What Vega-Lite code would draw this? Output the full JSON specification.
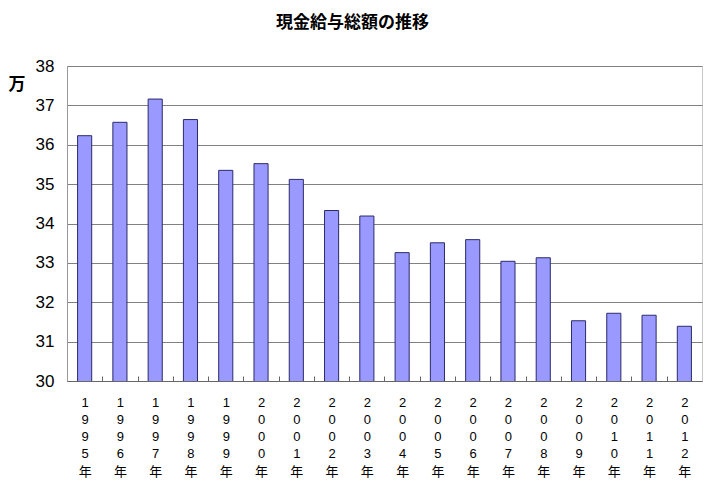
{
  "$schema": "https://vega.github.io/schema/vega-lite/v6.json",
  "width": 635,
  "height": 315,
  "autosize": "none",
  "padding": {"left": 67, "top": 66, "right": 7, "bottom": 112},
  "background": "white",
  "title": {
    "text": "現金給与総額の推移",
    "font": "Noto Sans CJK JP",
    "fontSize": 17,
    "fontWeight": "bold",
    "color": "#000000",
    "anchor": "middle",
    "dx": -32,
    "offset": 25
  },
  "config": {
    "view": {"stroke": "#c8c8c8", "strokeWidth": 1}
  },
  "data": {
    "values": [
      {"year": "1995", "value": 36.23},
      {"year": "1996", "value": 36.57},
      {"year": "1997", "value": 37.16},
      {"year": "1998", "value": 36.64},
      {"year": "1999", "value": 35.35},
      {"year": "2000", "value": 35.52},
      {"year": "2001", "value": 35.12},
      {"year": "2002", "value": 34.33},
      {"year": "2003", "value": 34.19},
      {"year": "2004", "value": 33.26},
      {"year": "2005", "value": 33.51},
      {"year": "2006", "value": 33.59},
      {"year": "2007", "value": 33.04},
      {"year": "2008", "value": 33.13},
      {"year": "2009", "value": 31.53},
      {"year": "2010", "value": 31.72},
      {"year": "2011", "value": 31.67},
      {"year": "2012", "value": 31.39}
    ]
  },
  "mark": {"type": "bar", "fill": "#9999ff", "stroke": "#2b2b6b", "strokeWidth": 1, "clip": true},
  "encoding": {
    "x": {
      "field": "year",
      "type": "ordinal",
      "scale": {"paddingInner": 0.6, "paddingOuter": 0.3},
      "axis": {
        "title": null,
        "labelAngle": 0,
        "labelExpr": "split(datum.label + '年', '')",
        "labelFont": "Liberation Sans, Noto Sans CJK JP",
        "labelFontSize": 13,
        "labelLineHeight": 17.3,
        "labelColor": "#000000",
        "labelBaseline": "top",
        "labelPadding": 20,
        "labelOffset": 17.64,
        "tickSize": -5,
        "tickOffset": -17.64,
        "tickColor": "#666666",
        "domainColor": "#666666"
      }
    },
    "y": {
      "field": "value",
      "type": "quantitative",
      "scale": {"domain": [30, 38], "zero": false, "nice": false},
      "axis": {
        "title": "万",
        "titleAngle": 0,
        "titleFont": "Noto Sans CJK JP",
        "titleFontSize": 17,
        "titleFontWeight": "bold",
        "titleColor": "#000000",
        "titleAlign": "left",
        "titleBaseline": "middle",
        "titleX": -59,
        "titleY": 18,
        "values": [30, 31, 32, 33, 34, 35, 36, 37, 38],
        "ticks": false,
        "labelFont": "Liberation Sans",
        "labelFontSize": 17,
        "labelColor": "#000000",
        "labelPadding": 13,
        "grid": true,
        "gridColor": "#808080",
        "gridWidth": 1,
        "domainColor": "#999999"
      }
    }
  }
}
